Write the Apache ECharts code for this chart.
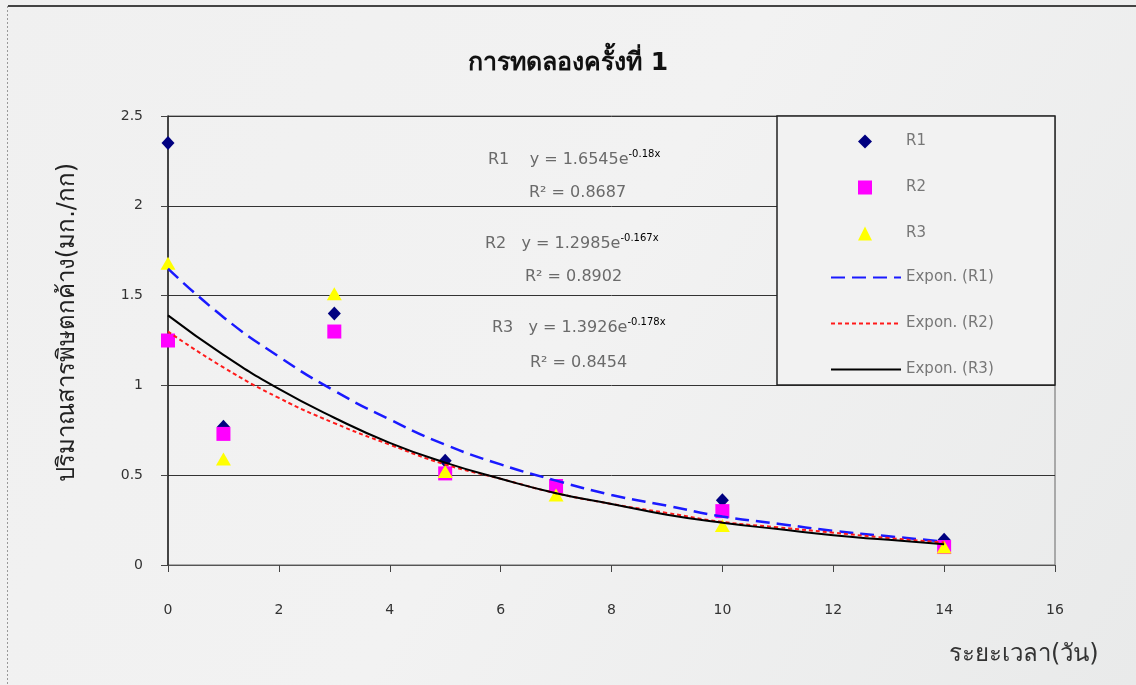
<!DOCTYPE html>
<html>
<head>
<meta charset="utf-8">
<script src="https://cdn.jsdelivr.net/npm/echarts@6/dist/echarts.min.js"></script>
<style>
  html, body { margin: 0; padding: 0; }
  #js-residue-chart { width: 1136px; height: 685px; }
</style>
</head>
<body>
<div id="js-residue-chart"></div>
<script>
// measured points (days vs residue mg/kg)
const days = [0, 1, 3, 5, 7, 10, 14];
const r1Values = [2.35, 0.77, 1.40, 0.58, 0.44, 0.36, 0.14];
const r2Values = [1.25, 0.73, 1.30, 0.51, 0.44, 0.30, 0.10];
const r3Values = [1.68, 0.59, 1.51, 0.52, 0.39, 0.22, 0.10];

// trend curves
const trendDays = [0, 1, 2, 3, 4, 5, 6, 7, 8, 9, 10, 11, 12, 13, 14];
const trendR1 = [1.65, 1.38, 1.16, 0.97, 0.81, 0.67, 0.56, 0.47, 0.39, 0.33, 0.27, 0.23, 0.19, 0.16, 0.13];
const trendR2 = [1.30, 1.10, 0.93, 0.79, 0.67, 0.56, 0.48, 0.40, 0.34, 0.29, 0.24, 0.21, 0.18, 0.15, 0.125];
const trendR3 = [1.39, 1.17, 0.98, 0.82, 0.68, 0.57, 0.48, 0.40, 0.34, 0.28, 0.235, 0.20, 0.165, 0.14, 0.115];

const pointNames = ['R1', 'R2', 'R3'];
const trendNames = ['Expon. (R1)', 'Expon. (R2)', 'Expon. (R3)'];
const fitCoefs = ['1.6545', '1.2985', '1.3926'];
const fitExps = ['-0.18x', '-0.167x', '-0.178x'];
const fitR2 = ['0.8687', '0.8902', '0.8454'];

const FONT = 'Tahoma, "DejaVu Sans", "Noto Sans", sans-serif';

class ResidueChart {
  constructor(el) {
    this.chart = echarts.init(el);
  }

  init() {
    this.chart.setOption({
      animation: false,
      backgroundColor: new echarts.graphic.LinearGradient(0, 0, 1, 1, [
        { offset: 0, color: '#f0f0f0' },
        { offset: 0.5, color: '#f2f2f2' },
        { offset: 1, color: '#e9eaea' }
      ]),
      title: this.buildTitle(),
      grid: { left: 168, right: 81, top: 116, bottom: 120, show: true, borderColor: '#666', borderWidth: 1 },
      legend: this.buildLegends(),
      xAxis: this.buildXAxis(),
      yAxis: this.buildYAxis(),
      series: this.buildSeries(),
      graphic: this.buildGraphics()
    });
  }

  buildTitle() {
    return {
      text: 'การทดลองครั้งที่ 1',
      left: 'center',
      top: 46,
      textStyle: { color: '#111', fontSize: 25, fontWeight: 'bold', fontFamily: FONT }
    };
  }

  buildLegends() {
    const textStyle = { color: '#777', fontSize: 15, fontFamily: FONT };
    return [
      {
        orient: 'vertical',
        left: 858,
        top: 134,
        padding: 0,
        itemWidth: 14,
        itemHeight: 14,
        itemGap: 31,
        textStyle: Object.assign({ padding: [0, 0, 0, 29] }, textStyle),
        data: pointNames
      },
      {
        orient: 'vertical',
        left: 830,
        top: 270,
        padding: 0,
        itemWidth: 70,
        itemHeight: 14,
        itemGap: 31,
        textStyle: textStyle,
        data: trendNames.map((n) => ({ name: n, itemStyle: { opacity: 0 } }))
      }
    ];
  }

  buildXAxis() {
    return {
      type: 'value',
      min: 0,
      max: 16,
      interval: 2,
      name: 'ระยะเวลา(วัน)',
      nameLocation: 'end',
      nameGap: -106,
      nameTextStyle: { color: '#333', fontSize: 24, fontFamily: FONT, align: 'left', verticalAlign: 'top', padding: [78, 0, 0, 0] },
      axisLine: { lineStyle: { color: '#555', width: 1 } },
      axisTick: { show: true, length: 7, lineStyle: { color: '#444' } },
      axisLabel: { margin: 38, color: '#333', fontSize: 14, fontFamily: FONT },
      splitLine: { show: false }
    };
  }

  buildYAxis() {
    return {
      type: 'value',
      min: 0,
      max: 2.5,
      interval: 0.5,
      name: 'ปริมาณสารพิษตกค้าง(มก./กก)',
      nameLocation: 'middle',
      nameGap: 88,
      nameTextStyle: { color: '#222', fontSize: 24, fontFamily: FONT, padding: [0, 0, 0, 36] },
      axisLine: { show: true, lineStyle: { color: '#222', width: 1.5 } },
      axisTick: { show: true, length: 7, lineStyle: { color: '#444' } },
      axisLabel: { margin: 25, color: '#333', fontSize: 14, fontFamily: FONT },
      splitLine: { show: true, lineStyle: { color: '#333', width: 1 } }
    };
  }

  toPairs(xs, ys) {
    return xs.map((x, i) => [x, ys[i]]);
  }

  buildSeries() {
    const scatter = (name, values, symbol, size, color) => ({
      name: name,
      type: 'scatter',
      symbol: symbol,
      symbolSize: size,
      itemStyle: { color: color, opacity: 1 },
      z: 2,
      data: this.toPairs(days, values)
    });
    const trend = (name, values, color, dash, width) => ({
      name: name,
      type: 'line',
      smooth: true,
      symbol: 'none',
      lineStyle: { color: color, width: width, type: dash },
      itemStyle: { color: color },
      z: 3,
      data: this.toPairs(trendDays, values)
    });

    return [
      scatter(pointNames[0], r1Values, 'diamond', [13, 14], '#000080'),
      scatter(pointNames[1], r2Values, 'rect', 14, '#ff00ff'),
      scatter(pointNames[2], r3Values, 'triangle', [15, 13], '#ffff00'),
      trend(trendNames[0], trendR1, '#1a1aff', [14, 7], 2.5),
      trend(trendNames[1], trendR2, '#ff1a1a', [4, 3], 2),
      trend(trendNames[2], trendR3, '#000000', 'solid', 2)
    ];
  }

  buildGraphics() {
    const items = [
      { type: 'line', shape: { x1: 8, y1: 6, x2: 1136, y2: 6 }, style: { stroke: '#444', lineWidth: 2 }, silent: true },
      { type: 'line', shape: { x1: 7.5, y1: 6, x2: 7.5, y2: 685 }, style: { stroke: '#999', lineWidth: 1, lineDash: [2, 2] }, silent: true },
      // legend frame
      { type: 'rect', z: 1, shape: { x: 777, y: 116, width: 278, height: 269 }, style: { fill: '#f2f2f2', stroke: '#222', lineWidth: 1.5 }, silent: true }
    ];
    const eqTops = [160, 244, 328];
    const eqLefts = [488, 485, 492];
    const r2Lefts = [529, 525, 530];
    const r2Tops = [193, 277, 363];

    pointNames.forEach((name, i) => {
      items.push({
        type: 'text',
        x: eqLefts[i],
        y: eqTops[i],
        z: 5,
        silent: true,
        style: {
          text: '{a|' + name + (i === 0 ? '    ' : '   ') + 'y = ' + fitCoefs[i] + 'e}{s|' + fitExps[i] + '}',
          verticalAlign: 'middle',
          rich: {
            a: { fontSize: 16, fontFamily: FONT, fill: '#6a6a6a', lineHeight: 22 },
            s: { fontSize: 10, fontFamily: FONT, fill: '#000', verticalAlign: 'top', lineHeight: 10 }
          }
        }
      });
      items.push({
        type: 'text',
        x: r2Lefts[i],
        y: r2Tops[i],
        z: 5,
        silent: true,
        style: {
          text: 'R² = ' + fitR2[i],
          fontSize: 16,
          fontFamily: FONT,
          fill: '#6a6a6a',
          verticalAlign: 'middle'
        }
      });
    });
    return items;
  }
}

let residueChart = new ResidueChart(document.getElementById('js-residue-chart'));
residueChart.init();
</script>
</body>
</html>
